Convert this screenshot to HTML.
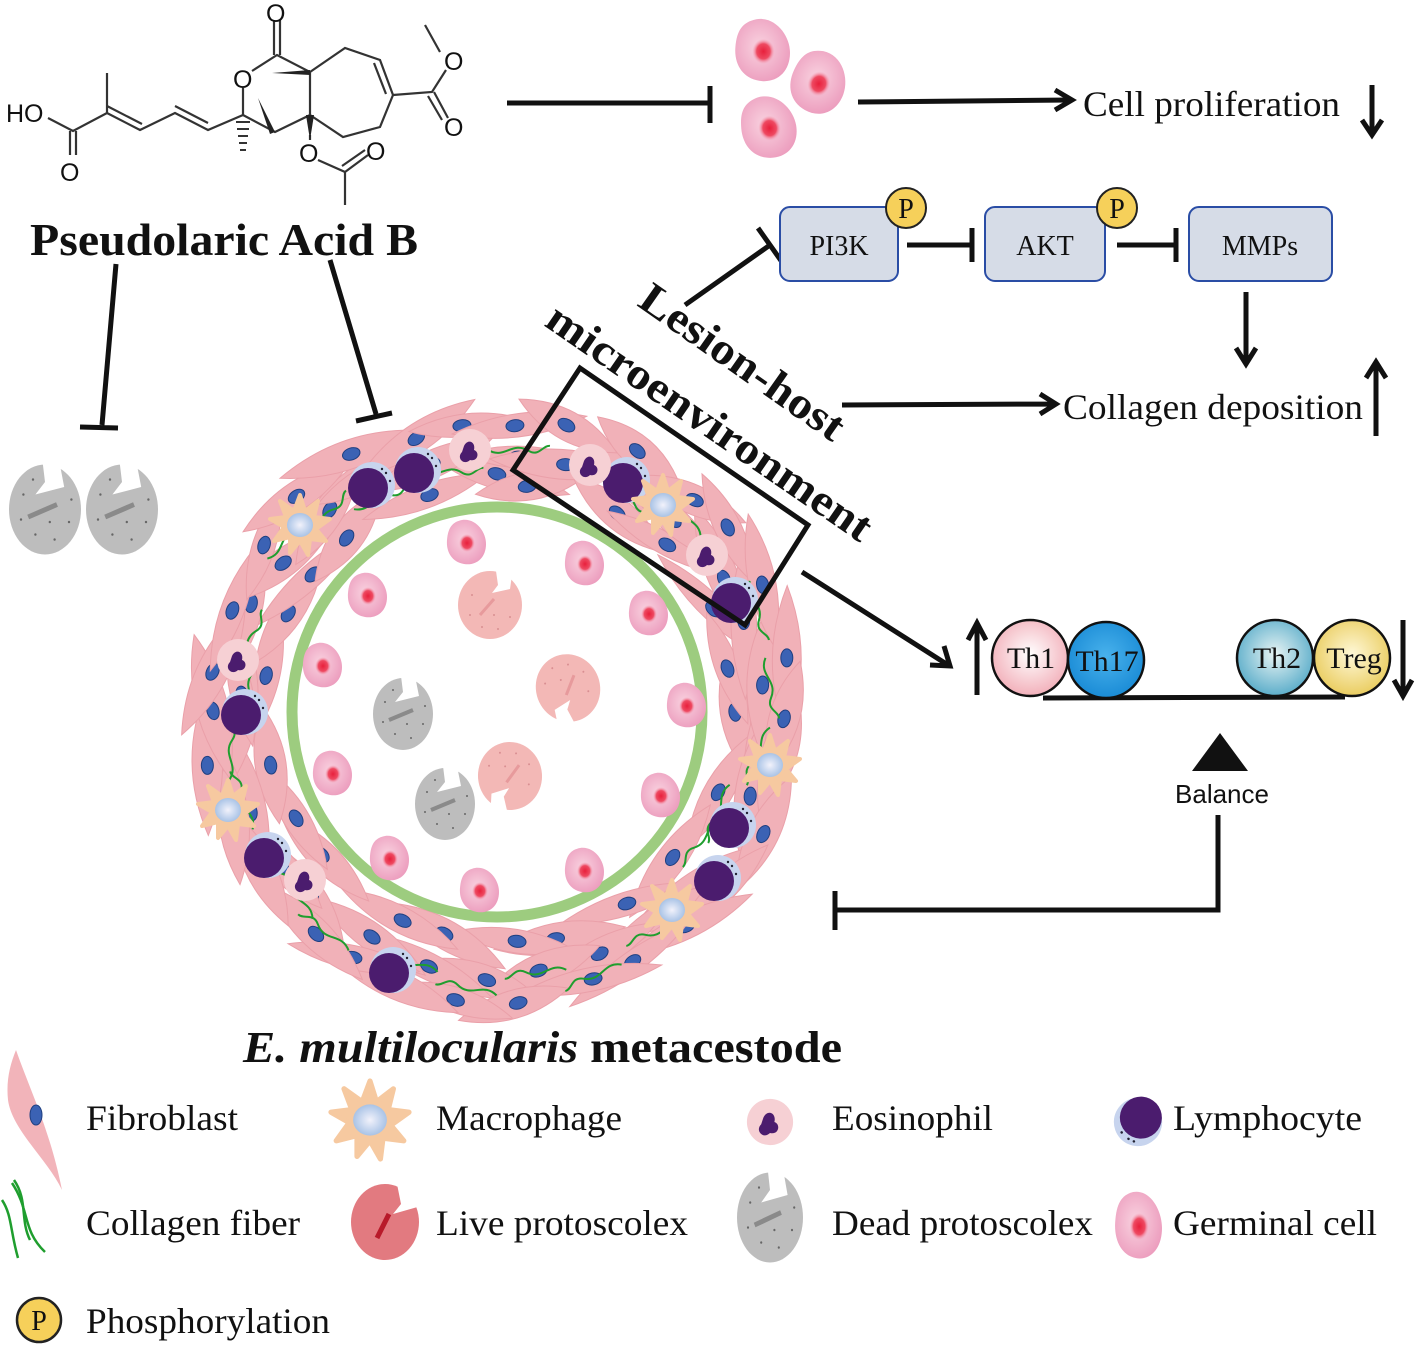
<!DOCTYPE html>
<html><head><meta charset="utf-8"><style>
html,body{margin:0;padding:0;background:#fff;}
svg{display:block;}
text{font-family:"Liberation Serif",serif;fill:#111;}
</style></head><body>
<svg id="s" width="1417" height="1345" viewBox="0 0 1417 1345" xmlns="http://www.w3.org/2000/svg">
<defs>
<radialGradient id="gg" cx="0.45" cy="0.45" r="0.6"><stop offset="0" stop-color="#f9d3e0"/><stop offset="1" stop-color="#ec9cbd"/></radialGradient>
<radialGradient id="rd"><stop offset="0" stop-color="#e8203c"/><stop offset="0.6" stop-color="#ee4a62"/><stop offset="1" stop-color="#f4a0b8" stop-opacity="0"/></radialGradient>
<radialGradient id="th1" cx="0.5" cy="0.45" r="0.6"><stop offset="0" stop-color="#fff"/><stop offset="1" stop-color="#f1a9b4"/></radialGradient>
<radialGradient id="th17" cx="0.5" cy="0.45" r="0.6"><stop offset="0" stop-color="#49b2ec"/><stop offset="1" stop-color="#1688d4"/></radialGradient>
<radialGradient id="th2" cx="0.5" cy="0.45" r="0.6"><stop offset="0" stop-color="#e8f4f4"/><stop offset="1" stop-color="#4fa7c6"/></radialGradient>
<radialGradient id="treg" cx="0.5" cy="0.45" r="0.6"><stop offset="0" stop-color="#fff8d8"/><stop offset="1" stop-color="#e8c955"/></radialGradient>
<radialGradient id="mc"><stop offset="0" stop-color="#f2f2fb"/><stop offset="1" stop-color="#a9c3e6"/></radialGradient>
<g id="germ"><path d="M-4,-22 C10,-24 20,-10 20,2 C20,16 10,24 -2,22 C-14,20 -20,10 -19,-2 C-18,-14 -14,-20 -4,-22Z" fill="url(#gg)"/><ellipse cx="1" cy="1" rx="8" ry="9" fill="url(#rd)"/></g>
<g id="live"><ellipse cx="0" cy="0" rx="32" ry="34" fill="#f3b8b6"/><path d="M6,-34 L8,-20 L2,-12 L20,-16 L22,-30Z" fill="#fff"/><path d="M-10,10 L4,-6" stroke="#e79a9c" stroke-width="3"/><g fill="#d98f92"><circle cx="-18" cy="-10" r="1"/><circle cx="-20" cy="10" r="1"/><circle cx="-8" cy="22" r="1"/><circle cx="8" cy="24" r="1"/><circle cx="20" cy="12" r="1"/><circle cx="4" cy="10" r="1"/></g></g>
<g id="livel"><ellipse cx="0" cy="0" rx="34" ry="38" fill="#e27a80"/><path d="M12,-38 L16,-18 L8,-8 L36,-16 L36,-34Z" fill="#fff"/><path d="M-8,16 L4,-8" stroke="#b81a2a" stroke-width="5"/></g>
<g id="dead"><ellipse cx="0" cy="2" rx="30" ry="36" fill="#bdbdbd"/><path d="M-2,-36 L0,-20 L-8,-10 L16,-16 L12,-36Z" fill="#fff"/><path d="M-14,8 L10,-2" stroke="#8a8a8a" stroke-width="4"/><g fill="#666"><circle cx="-18" cy="-10" r="1"/><circle cx="-20" cy="10" r="1"/><circle cx="-8" cy="22" r="1"/><circle cx="8" cy="26" r="1"/><circle cx="20" cy="12" r="1"/><circle cx="22" cy="-6" r="1"/><circle cx="4" cy="12" r="1"/><circle cx="-10" cy="-22" r="1"/></g></g>
<g id="lym"><circle r="23" fill="#c7d4ee"/><circle cx="-4" cy="3" r="20" fill="#4b1c6e"/><g fill="#223"><circle cx="14" cy="-12" r="1.2"/><circle cx="18" cy="-4" r="1.2"/><circle cx="10" cy="-16" r="1.2"/></g></g>
<g id="eos"><circle r="21" fill="#f6d0d4"/><path d="M-6,-4 C-2,-12 6,-8 4,0 C10,2 8,12 0,10 C-6,16 -14,8 -8,2Z" fill="#4b1c6e"/></g>
<g id="mac"><path d="M0,-30 L5,-14 L18,-24 L14,-8 L30,-6 L16,4 L26,16 L10,14 L8,30 L0,16 L-10,28 L-10,12 L-26,16 L-16,2 L-30,-6 L-14,-8 L-20,-24 L-6,-14Z" fill="#f6c9a0" stroke="#f6c9a0" stroke-width="4" stroke-linejoin="round"/><ellipse rx="13" ry="12" fill="url(#mc)"/></g>
</defs>

<g stroke="#333" stroke-width="2.2" fill="none">
<path d="M48,118 L73,131 L107,113 L140,130 L175,113 L208,130 L243,115"/>
<path d="M142,124 L107,106" />
<path d="M208,123 L175,106"/>
<path d="M107,113 L107,73"/>
<path d="M70,131 L70,155 M76,131 L76,155"/>
<path d="M243,115 L243,88 M252,71 L277,55 L310,72 L310,115 L275,132 L243,115"/>
<path d="M274,55 L274,20 M280,55 L280,20"/>
<path d="M310,72 L345,48 L380,60 L393,95 L380,127 L343,137 L310,115"/>
<path d="M374,63 L386,94"/>
<path d="M393,95 L432,92 L446,70 M440,52 L425,25 M434,92 L448,118 M428,96 L442,120"/>
<path d="M310,135 L310,140 M318,160 L345,172 L345,205 M345,172 L368,155 M342,166 L365,150"/>
</g>
<path d="M272,73 L310,70 L310,75Z" fill="#222"/>
<path d="M258,98 L275,132 L270,134Z" fill="#222"/>
<path d="M306,115 L314,115 L310,140Z" fill="#222"/>
<g stroke="#333" stroke-width="2"><path d="M236,122h14M237,129h12M238,136h10M239,143h8M240,150h6"/></g>
<g font-size="25" fill="#222">
<text x="6" y="122" style="font-family:'Liberation Sans',sans-serif">HO</text>
<text x="60" y="181" style="font-family:'Liberation Sans',sans-serif">O</text>
<text x="233" y="88" style="font-family:'Liberation Sans',sans-serif">O</text>
<text x="266" y="22" style="font-family:'Liberation Sans',sans-serif">O</text>
<text x="444" y="70" style="font-family:'Liberation Sans',sans-serif">O</text>
<text x="444" y="136" style="font-family:'Liberation Sans',sans-serif">O</text>
<text x="299" y="162" style="font-family:'Liberation Sans',sans-serif">O</text>
<text x="366" y="160" style="font-family:'Liberation Sans',sans-serif">O</text>
</g>
<text x="30" y="255" font-size="46" font-weight="bold" textLength="388" lengthAdjust="spacingAndGlyphs">Pseudolaric Acid B</text>

<g stroke="#111" stroke-width="5" fill="none">
<path d="M116,264 L102,425 M80,427 L118,428"/>
<path d="M330,260 L376,414 M356,421 L392,413"/>
<path d="M507,103 L710,103 M710,86 L710,123"/>
<path d="M858,102 L1070,100"/>
<path d="M1055,90 L1072,100 L1055,110"/>
<path d="M1372,85 L1372,133 M1362,120 L1372,135 L1382,120"/>
<path d="M685,305 L770,245 M758,228 L782,262"/>
<path d="M907,245 L970,245 M972,228 L972,262"/>
<path d="M1117,245 L1174,245 M1176,228 L1176,262"/>
<path d="M1246,292 L1246,362 M1236,348 L1246,364 L1256,348"/>
<path d="M842,405 L1054,404 M1040,394 L1056,404 L1040,414"/>
<path d="M1376,436 L1376,364 M1366,378 L1376,362 L1386,378"/>
<path d="M802,572 L948,665 M930,665 L950,666 L944,646"/>
<path d="M977,695 L977,625 M968,640 L977,623 L986,640"/>
<path d="M1403,620 L1403,693 M1394,680 L1403,696 L1412,680"/>
<path d="M1043,698 L1345,697"/>
<path d="M1218,815 L1218,910 L835,910 M835,891 L835,930"/>
</g>
<path d="M1220,733 L1248,771 L1192,771Z" fill="#111"/>
<text x="1222" y="803" font-size="26" text-anchor="middle" style="font-family:'Liberation Sans',sans-serif">Balance</text>

<use href="#germ" transform="translate(762,50) scale(1.4)"/>
<use href="#germ" transform="translate(818,82) scale(1.4) rotate(20)"/>
<use href="#germ" transform="translate(768,127) scale(1.4) rotate(-10)"/>
<text x="1083" y="116" font-size="36" textLength="257" lengthAdjust="spacingAndGlyphs">Cell proliferation</text>
<text x="1063" y="419" font-size="36" textLength="300" lengthAdjust="spacingAndGlyphs">Collagen deposition</text>

<g fill="#d6dce7" stroke="#2a4da5" stroke-width="2">
<rect x="780" y="207" width="118" height="74" rx="10"/>
<rect x="985" y="207" width="120" height="74" rx="10"/>
<rect x="1189" y="207" width="143" height="74" rx="10"/>
</g>
<g fill="#f6d05a" stroke="#222" stroke-width="2"><circle cx="906" cy="208" r="20"/><circle cx="1117" cy="208" r="20"/></g>
<g font-size="28">
<text x="906" y="218" text-anchor="middle">P</text><text x="1117" y="218" text-anchor="middle">P</text>
<text x="839" y="255" text-anchor="middle">PI3K</text>
<text x="1045" y="255" text-anchor="middle">AKT</text>
<text x="1260" y="255" text-anchor="middle">MMPs</text>
</g>

<g stroke="#111" stroke-width="2.5">
<circle cx="1030" cy="658" r="38" fill="url(#th1)"/>
<circle cx="1106" cy="660" r="38" fill="url(#th17)"/>
<circle cx="1275" cy="658" r="38" fill="url(#th2)"/>
<circle cx="1352" cy="658" r="38" fill="url(#treg)"/>
</g>
<g font-size="30">
<text x="1031" y="668" text-anchor="middle">Th1</text>
<text x="1107" y="671" text-anchor="middle">Th17</text>
<text x="1277" y="668" text-anchor="middle">Th2</text>
<text x="1354" y="668" text-anchor="middle">Treg</text>
</g>

<use href="#dead" transform="translate(45,507) scale(1.2,1.25)"/>
<use href="#dead" transform="translate(122,507) scale(1.2,1.25)"/>

<g id="ring"></g>
<circle cx="497" cy="712" r="205" fill="none" stroke="#9dcc7f" stroke-width="11"/>
<g id="inner">
<use href="#germ" transform="translate(466,542)"/>
<use href="#germ" transform="translate(367,595)"/>
<use href="#germ" transform="translate(584,563)"/>
<use href="#germ" transform="translate(648,613)"/>
<use href="#germ" transform="translate(322,665)"/>
<use href="#germ" transform="translate(686,705)"/>
<use href="#germ" transform="translate(332,773)"/>
<use href="#germ" transform="translate(389,858)"/>
<use href="#germ" transform="translate(479,890)"/>
<use href="#germ" transform="translate(584,870)"/>
<use href="#germ" transform="translate(660,795)"/>
<use href="#live" transform="translate(490,605)"/>
<use href="#live" transform="translate(568,688) rotate(160)"/>
<use href="#live" transform="translate(510,776) rotate(175)"/>
<use href="#dead" transform="translate(403,712)"/>
<use href="#dead" transform="translate(445,802)"/>
</g>
<g id="imm"></g>

<path d="M580,368 L808,525 L745,625 L513,470 Z" fill="none" stroke="#111" stroke-width="5"/>
<text transform="translate(636,305) rotate(35)" font-size="44" font-weight="bold" textLength="240" lengthAdjust="spacingAndGlyphs">Lesion-host</text>
<text transform="translate(543,325) rotate(34.5)" font-size="44" font-weight="bold" textLength="385" lengthAdjust="spacingAndGlyphs">microenvironment</text>

<text x="243" y="1062" font-size="44" font-weight="bold" textLength="599" lengthAdjust="spacingAndGlyphs"><tspan font-style="italic">E. multilocularis</tspan> metacestode</text>

<path d="M16,1050 C30,1090 50,1130 62,1190 C48,1160 12,1130 8,1100 C6,1080 10,1065 16,1050Z" fill="#f2b4ba"/>
<ellipse cx="36" cy="1115" rx="6" ry="10" fill="#3b62b4" stroke="#1f3f80"/>
<use href="#mac" transform="translate(370,1120) scale(1.3)"/>
<use href="#eos" transform="translate(770,1122) scale(1.1)"/>
<use href="#lym" transform="translate(1138,1122) rotate(160) scale(1.05)"/>
<path d="M14,1180 C28,1200 20,1220 30,1240" stroke="#1f9e2e" stroke-width="2.5" fill="none"/>
<path d="M12,1183 C30,1210 22,1230 45,1252 M2,1200 C12,1215 10,1230 18,1258" stroke="#1f9e2e" stroke-width="2.5" fill="none"/>
<use href="#livel" transform="translate(385,1222)"/>
<use href="#dead" transform="translate(770,1215) scale(1.1,1.25)"/>
<use href="#germ" transform="translate(1138,1225) scale(1.2,1.5)"/>
<circle cx="39" cy="1320" r="22" fill="#f6d05a" stroke="#222" stroke-width="2.5"/>
<text x="39" y="1330" font-size="28" text-anchor="middle">P</text>
<g font-size="36">
<text x="86" y="1130" textLength="152" lengthAdjust="spacingAndGlyphs">Fibroblast</text>
<text x="436" y="1130" textLength="186" lengthAdjust="spacingAndGlyphs">Macrophage</text>
<text x="832" y="1130" textLength="161" lengthAdjust="spacingAndGlyphs">Eosinophil</text>
<text x="1173" y="1130" textLength="189" lengthAdjust="spacingAndGlyphs">Lymphocyte</text>
<text x="86" y="1235" textLength="214" lengthAdjust="spacingAndGlyphs">Collagen fiber</text>
<text x="436" y="1235" textLength="252" lengthAdjust="spacingAndGlyphs">Live protoscolex</text>
<text x="832" y="1235" textLength="261" lengthAdjust="spacingAndGlyphs">Dead protoscolex</text>
<text x="1173" y="1235" textLength="204" lengthAdjust="spacingAndGlyphs">Germinal cell</text>
<text x="86" y="1333" textLength="244" lengthAdjust="spacingAndGlyphs">Phosphorylation</text>
</g>
</svg>
<script>
(function(){
var ring=document.getElementById("ring"),imm=document.getElementById("imm");
var seed=7;function R(){seed=(seed*16807)%2147483647;return seed/2147483647;}
var cx=497,cy=712,h="";
for(var layer=0;layer<3;layer++){
 var n=[22,26,30][layer],rr=[232,262,290][layer];
 for(var k=0;k<n;k++){
  var t=(k+R()*0.6+layer*0.33)*2*Math.PI/n,r=rr+(R()-0.5)*14;
  var x=cx+r*Math.cos(t),y=cy+r*Math.sin(t);
  var a=(t+Math.PI/2)*180/Math.PI+(R()-0.5)*40;
  var L=55+R()*20,W=11+R()*5;
  h+='<g transform="translate('+x.toFixed(1)+','+y.toFixed(1)+') rotate('+a.toFixed(1)+')"><path d="M'+(-L)+',0 Q0,'+(-2*W)+' '+L+',0 Q0,'+(2*W)+' '+(-L)+',0Z" fill="#f1b1b8" stroke="#eaa0a9" stroke-width="1"/>';
  h+='<ellipse cx="'+(R()*10-5).toFixed(1)+'" cy="0" rx="9" ry="6" fill="#3b62b4" stroke="#1f3f80" stroke-width="1"/></g>';
 }
}
for(var k=0;k<24;k++){
  var t=k*2*Math.PI/24+R()*0.2,r=240+R()*50;
  var x=cx+r*Math.cos(t),y=cy+r*Math.sin(t),a=(t+Math.PI/2)*180/Math.PI+(R()-0.5)*30;
  h+='<path transform="translate('+x.toFixed(1)+','+y.toFixed(1)+') rotate('+a.toFixed(1)+')" d="M-30,-4 C-15,8 -5,-10 10,2 C20,10 25,-2 32,0" stroke="#1f9e2e" stroke-width="2" fill="none"/>';
}
ring.innerHTML=h;
var g="";
[[372,485],[418,470],[245,712],[268,855],[393,970],[627,480],[735,600],[733,825],[718,878]].forEach(function(p){g+='<use href="#lym" transform="translate('+p[0]+','+p[1]+')"/>';});
[[470,450],[590,465],[707,555],[238,660],[305,880]].forEach(function(p){g+='<use href="#eos" transform="translate('+p[0]+','+p[1]+')"/>';});
[[300,525],[663,505],[770,765],[228,810],[672,910]].forEach(function(p){g+='<use href="#mac" transform="translate('+p[0]+','+p[1]+')"/>';});
imm.innerHTML=g;
})();
</script>
</body></html>
